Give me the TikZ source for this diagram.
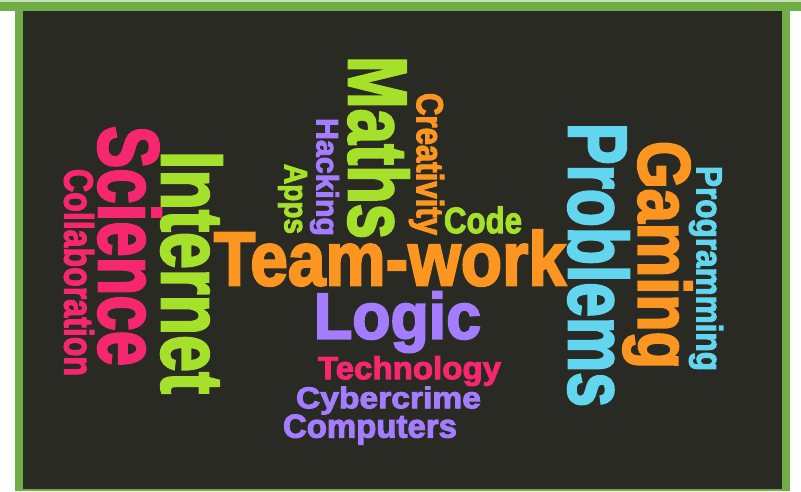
\documentclass[tikz,border=0pt]{standalone}
\usepackage{graphicx}
\usepackage{fontspec}
\setmainfont{Liberation Sans}[BoldFeatures={FakeBold=3}]
\definecolor{bgdark}{HTML}{292A24}
\definecolor{frame}{HTML}{70AD47}
\definecolor{topline}{HTML}{C9DDB8}
\definecolor{wpink}{HTML}{F7276F}
\definecolor{wlime}{HTML}{A5E02B}
\definecolor{worange}{HTML}{FD9621}
\definecolor{wpurple}{HTML}{A47CFF}
\definecolor{wcyan}{HTML}{62D6EE}
\tikzset{
  wc/.style={inner sep=0pt, outer sep=0pt, font=\bfseries},
  vert/.style={wc, rotate=-90}
}
\newcommand\fitw[3]{\resizebox*{#1pt}{#2pt}{#3}}
\begin{document}
\begin{tikzpicture}[x=1pt,y=-1pt]
\useasboundingbox (0,0) rectangle (801,491);
\fill[white] (0,0) rectangle (801,491);
\fill[topline] (0,0) rectangle (801,2);
\fill[frame] (0,2) rectangle (801,10.5);
\fill[frame] (15,10) rectangle (790,491);
\fill[bgdark] (23,10.5) rectangle (782,489);
% vertical words
\node[vert, text=wpink] (science) at (129.5,246) {\fitw{240}{63}{Science}};
\node[vert, text=wpink] (collab) at (79,272.5) {\fitw{207}{30}{Collaboration}};
\node[vert, text=wlime] (internet) at (191.5,272.5) {\fitw{243}{61}{Internet}};
\node[vert, text=wlime] (apps) at (292.5,199) {\fitw{70}{29}{Apps}};
\node[vert, text=wpurple] (hacking) at (324.5,177) {\fitw{118}{29}{Hacking}};
\node[vert, text=wlime] (maths) at (378.5,147.5) {\fitw{183}{61}{Maths}};
\node[vert, text=worange] (creativity) at (426.5,164) {\fitw{142}{35}{Creativity}};
\node[vert, text=wcyan] (problems) at (598.5,265) {\fitw{284}{61}{Problems}};
\node[vert, text=worange] (gaming) at (657.5,255) {\fitw{228}{69}{Gaming}};
\node[vert, text=wcyan] (programming) at (706,268.5) {\fitw{205}{34}{Programming}};
% horizontal words
\node[wc, text=wlime] (code) at (483,220) {\fitw{78}{27}{Code}};
\node[wc, text=worange] (teamwork) at (390,258) {\fitw{352}{56}{Team-work}};
\node[wc, text=wpurple] (logic) at (397.5,322) {\fitw{167}{61}{Logic}};
\node[wc, text=wpink] (technology) at (409.5,371) {\fitw{183}{30}{Technology}};
\node[wc, text=wpurple] (cybercrime) at (388.5,400.5) {\fitw{185}{28}{Cybercrime}};
\node[wc, text=wpurple] (computers) at (370,429.5) {\fitw{174}{30}{Computers}};
\end{tikzpicture}
\end{document}
